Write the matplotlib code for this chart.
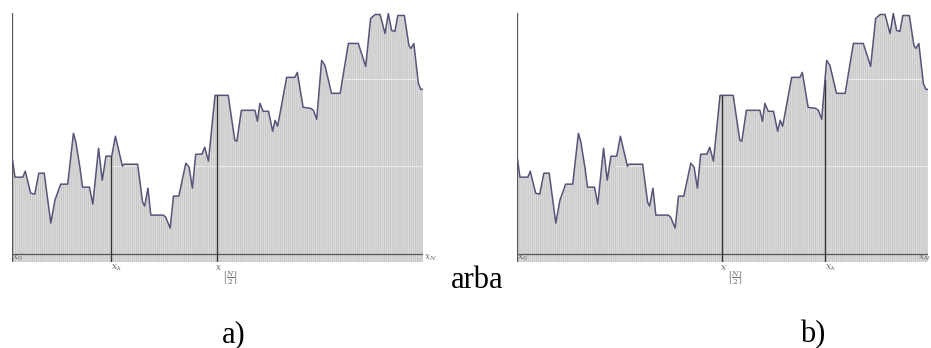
import numpy as np
import matplotlib
matplotlib.use("Agg")
import matplotlib.pyplot as plt

plt.rcParams['mathtext.fontset'] = 'dejavuserif'
plt.rcParams['hatch.linewidth'] = 0.6

# signal vertices: position along [x0, xN] (0..100) and value above the axis
pos = [0, 0.8, 2.7, 3.3, 4.6, 5.6, 6.6, 7.9, 9.5, 10.5, 11.9, 13.6, 15.0, 15.6,
       16.6, 17.2, 18.9, 19.7, 21.1, 22.0, 22.9, 24.3, 25.2, 26.9, 27.3, 30.6,
       31.8, 32.3, 33.1, 33.8, 36.8, 37.4, 38.5, 39.3, 40.6, 42.3, 43.1, 43.9,
       44.7, 46.2, 46.9, 47.8, 49.4, 52.6, 54.2, 54.7, 55.8, 58.7, 59.1, 59.7,
       60.3, 61.1, 62.4, 63.4, 64.0, 64.6, 65.2, 66.8, 68.8, 69.4, 70.8, 72.6,
       73.3, 74.1, 75.3, 76.1, 77.7, 79.8, 81.8, 84.2, 86.0, 87.2, 88.3, 89.5,
       90.7, 91.5, 92.3, 93.1, 93.8, 95.4, 96.5, 97.0, 97.7, 98.8, 99.4, 100]
val = [100, 77, 77, 83, 61, 60, 81, 81, 31, 54, 70, 70, 121, 112,
       86, 67, 67, 50, 106, 74, 98, 98, 118, 88, 90, 90,
       52, 48, 66, 39, 39, 37, 26, 58, 58, 91, 87, 66,
       100, 100, 107, 93, 159, 159, 114, 113, 144, 144, 144, 133,
       151, 143, 143, 123, 134, 128, 141, 177, 177, 182, 147, 146,
       144, 135, 194, 189, 161, 161, 211, 211, 188, 236, 240, 240,
       221, 241, 224, 223, 239, 239, 209, 206, 211, 171, 165, 165]

x_half = 49.8
x_k_a = 24.2
x_k_b = 74.9
# faint light grid lines inside the fill: (level, start position)
grid_lvls = [88, 175]
grid_from = [24.0, 80.0]

W, H = 931, 348
fig = plt.figure(figsize=(W / 100, H / 100), dpi=100)


def draw_panel(left_px, xk, xn_x, xn_ha):
    ax = fig.add_axes([left_px / W, (H - 262) / H, 411.6 / W, 249 / H])
    ax.set_xlim(0, 100)
    ax.set_ylim(-8, 241.5)
    ax.axis('off')
    ax.fill_between(pos, val, -8, facecolor='#dcdcdc', edgecolor='#c3c3c3',
                    hatch='|' * 8, linewidth=0, zorder=1)
    for g, g0 in zip(grid_lvls, grid_from):
        ax.plot([g0, 100], [g, g], color='white', alpha=0.55, lw=0.8, zorder=2)
    ax.plot(pos, val, color='#55557a', lw=1.1, zorder=4)
    ax.plot([0, 99.6], [0, 0], color='#555555', lw=0.9, zorder=3)
    ax.plot([0, 0], [-8, 241.5], color='#555555', lw=0.9, zorder=3)
    for xv in (x_half, xk):
        ax.plot([xv, xv], [-8, np.interp(xv, pos, val)], color='#333333',
                lw=1.0, zorder=3)

    lab = dict(color='#6a6a6a', fontsize=6.5, clip_on=False)
    ax.text(0.1, -3.5, r'$x_0$', ha='left', va='center', **lab)
    ax.text(xn_x, -3.5, r'$x_N$', ha=xn_ha, va='center', zorder=5, **lab)
    ax.text(xk - 0.1, -9, r'$x_k$', ha='left', va='top', **lab)
    ax.text(x_half - 0.3, -9, r'$x$', ha='left', va='top', **lab)
    ax.text(x_half + 1.2, -16, r'$\left[\frac{N}{2}\right]$', ha='left',
            va='top', color='#6a6a6a', fontsize=7.5, clip_on=False)
    return ax


draw_panel(11.7, x_k_a, 100.2, 'left')
draw_panel(516.7, x_k_b, 100.5, 'right')

txt = dict(fontsize=22, family='Liberation Serif', va='baseline', ha='left')
fig.text(451 / W, (H - 288) / H, 'arba', **txt)
fig.text(222 / W, (H - 342) / H, 'a)', **txt)
fig.text(800 / W, (H - 342) / H, 'b)', **txt)

fig.savefig('out.png', dpi=100)
